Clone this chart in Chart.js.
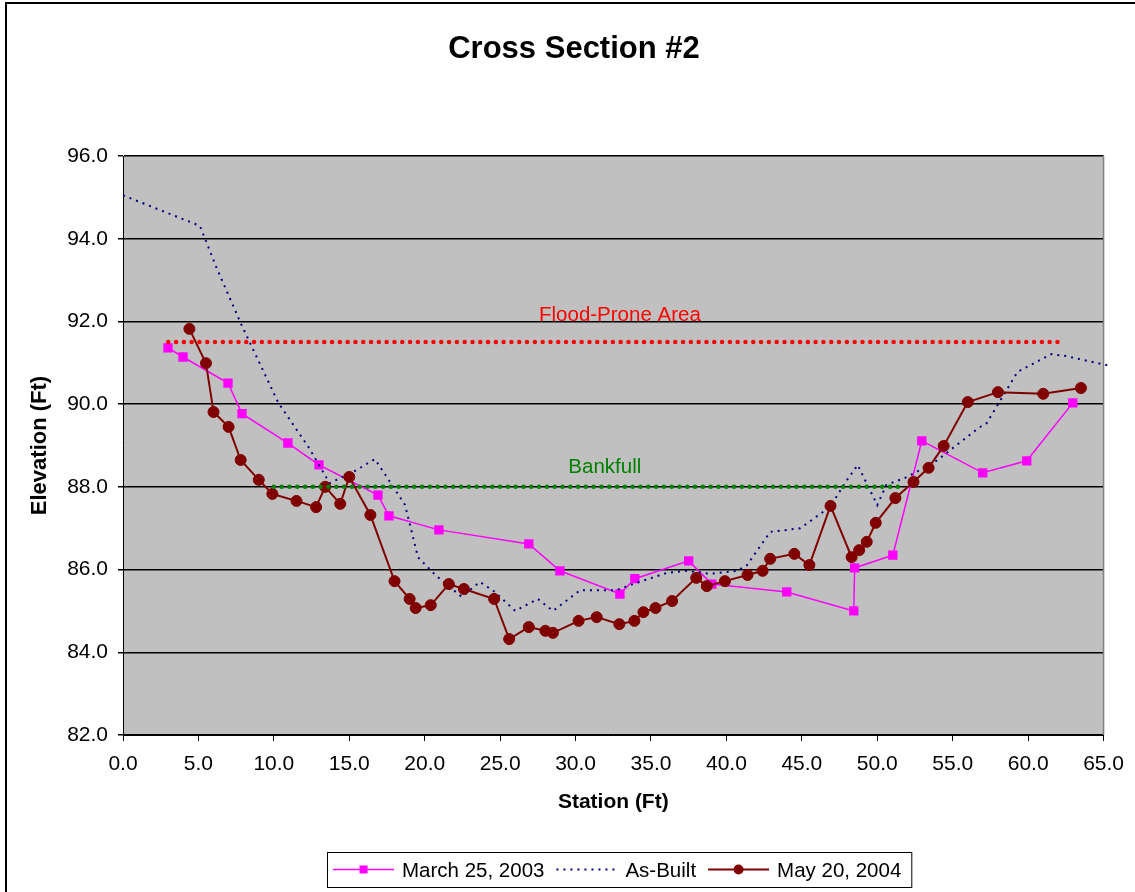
<!DOCTYPE html>
<html>
<head>
<meta charset="utf-8">
<script src="https://cdn.jsdelivr.net/npm/chart.js@4.4.0/dist/chart.umd.min.js"></script>
<style>
  html, body { margin: 0; padding: 0; background: #fff; }
  canvas { display: block; }
</style>
</head>
<body>
<canvas id="chart" width="1135" height="892"></canvas>
<script>
// survey data, station (ft) vs elevation (ft)
const march2003Station = [2.98, 3.98, 6.96, 7.89, 10.93, 12.99, 16.9, 17.63, 20.94, 26.9, 28.96, 32.94, 33.93, 37.5, 39.03, 44.0, 48.44, 48.5, 51.03, 52.95, 56.99, 59.91, 62.96];
const march2003Elev = [91.36, 91.14, 90.51, 89.77, 89.06, 88.53, 87.8, 87.3, 86.96, 86.62, 85.97, 85.41, 85.78, 86.21, 85.65, 85.46, 85.0, 86.04, 86.35, 89.11, 88.34, 88.63, 90.03];

const asBuiltStation = [0, 5.1, 6.2, 7.8, 10.3, 12.3, 13.7, 15.25, 16.7, 17.7, 18.7, 19.55, 20.7, 22.45, 23.66, 24.65, 26.0, 27.5, 28.5, 30.3, 32.7, 33.8, 36.05, 37.4, 38.9, 40.7, 41.35, 42.9, 44.9, 46.85, 48.0, 48.7, 50.0, 50.6, 51.8, 52.8, 54.0, 56.7, 57.25, 59.3, 61.55, 62.55, 65.5];
const asBuiltElev = [95.05, 94.31, 93.3, 91.96, 90.03, 88.96, 88.09, 88.36, 88.67, 88.12, 87.56, 86.3, 85.87, 85.34, 85.7, 85.46, 85.0, 85.29, 85.0, 85.5, 85.5, 85.65, 85.92, 85.97, 85.9, 85.97, 86.1, 86.91, 87.0, 87.51, 88.17, 88.53, 87.56, 88.05, 88.21, 88.4, 88.65, 89.42, 89.54, 90.78, 91.21, 91.16, 90.92];

const may2004Station = [4.4, 5.5, 6.0, 7.0, 7.8, 9.0, 9.9, 11.5, 12.8, 13.4, 14.4, 15.0, 16.4, 18.0, 19.0, 19.4, 20.4, 21.6, 22.6, 24.6, 25.6, 26.9, 28.0, 28.5, 30.2, 31.4, 32.9, 33.9, 34.5, 35.3, 36.4, 38.0, 38.7, 39.9, 41.4, 42.4, 42.9, 44.5, 45.5, 46.9, 48.3, 48.8, 49.3, 49.9, 51.2, 52.4, 53.4, 54.4, 56.0, 58.0, 61.0, 63.5];
const may2004Elev = [91.82, 90.99, 89.81, 89.45, 88.65, 88.17, 87.83, 87.66, 87.51, 88.0, 87.59, 88.24, 87.32, 85.72, 85.29, 85.07, 85.14, 85.65, 85.53, 85.29, 84.32, 84.61, 84.52, 84.47, 84.76, 84.85, 84.68, 84.76, 84.97, 85.07, 85.24, 85.8, 85.6, 85.72, 85.87, 85.97, 86.26, 86.38, 86.11, 87.54, 86.3, 86.47, 86.67, 87.13, 87.73, 88.12, 88.46, 88.99, 90.05, 90.29, 90.25, 90.39];

const floodStation = [3.0, 62.0];
const floodElev = [91.5, 91.5];
const bankfullStation = [10.0, 51.4];
const bankfullElev = [88.0, 88.0];

const yMin = 82, yMax = 96, yStep = 2;
const xMin = 0, xMax = 65, xStep = 5;

const FONT = "'Liberation Sans', Arial, sans-serif";

function pts(xs, ys) {
  return xs.map((x, i) => ({ x: x, y: ys[i] }));
}

// text notes placed in data units
const notes = [
  { text: 'Flood-Prone Area', x: 32.94, y: 92.01, color: '#FF0000' },
  { text: 'Bankfull', x: 31.94, y: 88.34, color: '#008000' }
];

const excelFrame = {
  id: 'excelFrame',
  beforeDraw(chart) {
    const { ctx, chartArea: a } = chart;
    ctx.save();
    ctx.fillStyle = '#fff';
    ctx.fillRect(0, 0, chart.width, chart.height);
    ctx.fillStyle = '#C0C0C0';
    ctx.fillRect(a.left, a.top, a.right - a.left, a.bottom - a.top);
    ctx.restore();
  },
  afterDraw(chart) {
    const { ctx, chartArea: a, scales } = chart;
    ctx.save();

    // plot area right edge
    ctx.strokeStyle = '#808080';
    ctx.lineWidth = 1.5;
    ctx.beginPath();
    ctx.moveTo(a.right, a.top);
    ctx.lineTo(a.right, a.bottom);
    ctx.stroke();

    // chart area border
    ctx.strokeStyle = '#000';
    ctx.lineWidth = 2;
    ctx.strokeRect(6, 3, 1300, 1100);

    // title
    ctx.fillStyle = '#000';
    ctx.font = 'bold 31px ' + FONT;
    ctx.textAlign = 'center';
    ctx.textBaseline = 'alphabetic';
    ctx.fillText('Cross Section #2', 574, 58);

    // notes
    ctx.font = '20.5px ' + FONT;
    notes.forEach(n => {
      ctx.fillStyle = n.color;
      ctx.fillText(n.text, scales.x.getPixelForValue(n.x), scales.y.getPixelForValue(n.y));
    });

    // legend
    const items = [0, 1, 2].map(i => chart.data.datasets[i]);
    ctx.font = '20.5px ' + FONT;
    const sample = 61, gapT = 8, gapI = 12, padL = 6, padR = 10;
    let total = padL + padR;
    items.forEach((d, i) => {
      total += sample + gapT + ctx.measureText(d.label).width;
      if (i < items.length - 1) total += gapI;
    });
    const bx = 327, by = 852, bh = 35, cy = by + bh / 2;
    ctx.fillStyle = '#fff';
    ctx.fillRect(bx, by, total, bh);
    ctx.strokeStyle = '#000';
    ctx.lineWidth = 1;
    ctx.strokeRect(bx + 0.5, by + 0.5, total, bh);
    let x = bx + padL;
    items.forEach(d => {
      ctx.save();
      ctx.strokeStyle = d.borderColor;
      ctx.lineWidth = d.borderWidth;
      ctx.setLineDash(d.borderDash || []);
      ctx.beginPath();
      ctx.moveTo(x, cy);
      ctx.lineTo(x + sample, cy);
      ctx.stroke();
      ctx.restore();
      if (d.pointRadius > 0) {
        ctx.fillStyle = d.pointBackgroundColor;
        ctx.beginPath();
        if (d.pointStyle === 'rect') {
          ctx.rect(x + sample / 2 - 4, cy - 4, 8, 8);
        } else {
          ctx.arc(x + sample / 2, cy, 5, 0, Math.PI * 2);
        }
        ctx.fill();
      }
      x += sample + gapT;
      ctx.fillStyle = '#000';
      ctx.textAlign = 'left';
      ctx.fillText(d.label, x, cy + 7.5);
      x += ctx.measureText(d.label).width + gapI;
    });

    ctx.restore();
  }
};

new Chart(document.getElementById('chart'), {
  type: 'line',
  data: {
    datasets: [
      {
        label: 'March 25, 2003',
        data: pts(march2003Station, march2003Elev),
        borderColor: '#FF00FF',
        backgroundColor: '#FF00FF',
        borderWidth: 1.5,
        pointStyle: 'rect',
        pointRadius: 6.6,
        pointBackgroundColor: '#FF00FF',
        pointBorderColor: '#FF00FF',
        pointBorderWidth: 0,
        tension: 0,
        order: 4
      },
      {
        label: 'As-Built',
        data: pts(asBuiltStation, asBuiltElev),
        borderColor: '#000080',
        borderWidth: 2,
        borderDash: [2, 5],
        pointRadius: 0,
        tension: 0,
        clip: { left: 0, top: 0, right: 12, bottom: 0 },
        order: 3
      },
      {
        label: 'May 20, 2004',
        data: pts(may2004Station, may2004Elev),
        borderColor: '#800000',
        backgroundColor: '#800000',
        borderWidth: 2,
        pointStyle: 'circle',
        pointRadius: 5.5,
        pointBackgroundColor: '#800000',
        pointBorderColor: '#800000',
        pointBorderWidth: 1,
        tension: 0,
        order: 2
      },
      {
        label: 'Flood-Prone',
        data: pts(floodStation, floodElev),
        borderColor: '#FF0000',
        borderWidth: 4.5,
        borderDash: [0, 7.8],
        borderCapStyle: 'round',
        pointRadius: 0,
        order: 1
      },
      {
        label: 'Bankfull',
        data: pts(bankfullStation, bankfullElev),
        borderColor: '#008000',
        borderWidth: 4.5,
        borderDash: [0, 7.8],
        borderCapStyle: 'round',
        pointRadius: 0,
        order: 0
      }
    ]
  },
  options: {
    responsive: false,
    animation: false,
    events: [],
    layout: { padding: { left: 0, top: 156, right: 31, bottom: 77 } },
    plugins: {
      legend: { display: false },
      title: { display: false },
      tooltip: { enabled: false }
    },
    scales: {
      x: {
        type: 'linear',
        min: xMin,
        max: xMax,
        ticks: {
          stepSize: xStep,
          autoSkip: false,
          maxRotation: 0,
          color: '#000',
          padding: 11,
          font: { family: FONT, size: 21 },
          callback: v => v.toFixed(1)
        },
        grid: { drawOnChartArea: false, drawTicks: true, tickLength: 6, color: '#000', lineWidth: 1 },
        border: { color: '#000', width: 1 },
        title: {
          display: true,
          text: 'Station (Ft)',
          color: '#000',
          font: { family: FONT, size: 21, weight: 'bold' },
          padding: { top: 0, bottom: 0 }
        },
        afterFit: s => { s.height = 80; }
      },
      y: {
        type: 'linear',
        min: yMin,
        max: yMax,
        ticks: {
          stepSize: yStep,
          color: '#000',
          padding: 10,
          font: { family: FONT, size: 21 },
          callback: v => v.toFixed(1)
        },
        grid: { color: '#000', lineWidth: 1.5, tickLength: 5 },
        border: { color: '#000', width: 1 },
        title: {
          display: true,
          text: 'Elevation (Ft)',
          color: '#000',
          font: { family: FONT, size: 22, weight: 'bold' },
          padding: { top: 27, bottom: 0 }
        },
        afterFit: s => { s.width = 123; }
      }
    }
  },
  plugins: [excelFrame]
});
</script>
</body>
</html>
